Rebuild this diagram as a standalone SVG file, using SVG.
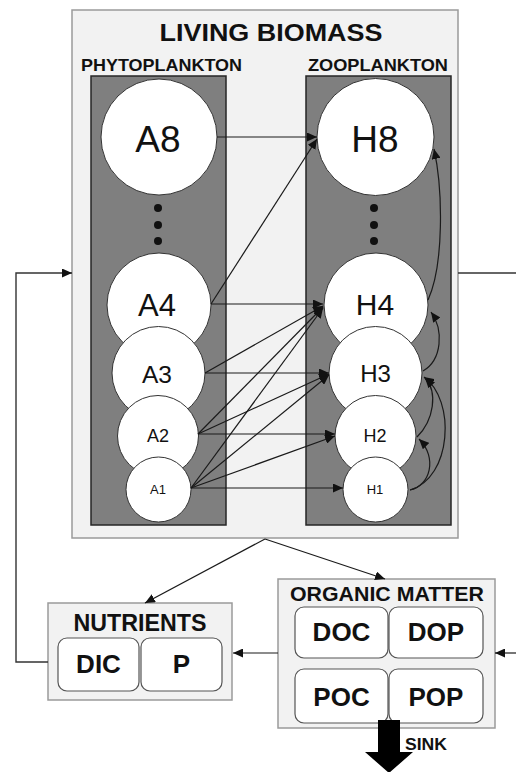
<svg xmlns="http://www.w3.org/2000/svg" width="516" height="772" viewBox="0 0 516 772">
<style>
.panel{fill:#f2f2f2;stroke:#9a9a9a;stroke-width:1.5}
.dark{fill:#7f7f7f;stroke:#262626;stroke-width:1.5}
.circ{fill:#ffffff;stroke:#333333;stroke-width:1}
.cell{fill:#ffffff;stroke:#555555;stroke-width:1.2}
.lbl{font-family:"Liberation Sans",Arial,sans-serif;fill:#111;text-anchor:middle}
.b{font-weight:bold}
.con{fill:none;stroke:#1a1a1a;stroke-width:1.2}
.fb{fill:none;stroke:#333;stroke-width:1.4}
.dot{fill:#111}
</style>
<defs>
<marker id="ah" markerUnits="userSpaceOnUse" markerWidth="11" markerHeight="9" refX="10" refY="4.5" orient="auto" viewBox="0 0 11 9">
<path d="M0,0 L10,4.5 L0,9 Z" fill="#111"/>
</marker>
</defs>

<g id="living-biomass">
<rect class="panel" x="72" y="10" width="386" height="528"/>
<text class="lbl b" x="271" y="41" font-size="23" textLength="223" lengthAdjust="spacingAndGlyphs">LIVING BIOMASS</text>
<text class="lbl b" x="161.5" y="71" font-size="17" textLength="161" lengthAdjust="spacingAndGlyphs">PHYTOPLANKTON</text>
<text class="lbl b" x="378" y="71" font-size="17" textLength="140" lengthAdjust="spacingAndGlyphs">ZOOPLANKTON</text>
</g>

<g id="phytoplankton">
<rect class="dark" x="91" y="76" width="135" height="449"/>
<circle class="dot" cx="158" cy="208" r="4"/>
<circle class="dot" cx="158" cy="225" r="4"/>
<circle class="dot" cx="158" cy="241" r="4"/>
</g>
<g id="zooplankton">
<rect class="dark" x="306" y="76" width="145" height="449"/>
<circle class="dot" cx="374" cy="208" r="4"/>
<circle class="dot" cx="374" cy="225" r="4"/>
<circle class="dot" cx="374" cy="241" r="4"/>
</g>

<g id="A8"><circle class="circ" cx="159" cy="137" r="58"/><text class="lbl" x="158" y="152" font-size="37">A8</text></g>
<g id="A4"><circle class="circ" cx="159" cy="305" r="52"/><text class="lbl" x="157" y="316" font-size="31">A4</text></g>
<g id="A3"><circle class="circ" cx="158.5" cy="373" r="46.5"/><text class="lbl" x="157" y="383" font-size="24.5">A3</text></g>
<g id="A2"><circle class="circ" cx="158" cy="436" r="40.5"/><text class="lbl" x="158" y="442" font-size="18">A2</text></g>
<g id="A1"><circle class="circ" cx="158.5" cy="489.5" r="32.5"/><text class="lbl" x="158" y="494" font-size="13">A1</text></g>

<g id="H8"><circle class="circ" cx="375.5" cy="137" r="58.5"/><text class="lbl" x="375" y="152" font-size="37">H8</text></g>
<g id="H4"><circle class="circ" cx="376" cy="305" r="52"/><text class="lbl" x="375" y="315" font-size="30">H4</text></g>
<g id="H3"><circle class="circ" cx="375.5" cy="373" r="46.5"/><text class="lbl" x="375.5" y="382" font-size="24">H3</text></g>
<g id="H2"><circle class="circ" cx="375.5" cy="436" r="40.5"/><text class="lbl" x="375" y="442" font-size="18">H2</text></g>
<g id="H1"><circle class="circ" cx="375.5" cy="489.5" r="32.5"/><text class="lbl" x="375" y="494" font-size="13">H1</text></g>

<g id="nutrients">
<rect class="panel" x="48" y="603" width="184" height="97"/>
<text class="lbl b" x="140" y="631" font-size="23" textLength="133" lengthAdjust="spacingAndGlyphs">NUTRIENTS</text>
<rect class="cell" x="58" y="638" width="81" height="53" rx="9"/>
<rect class="cell" x="141" y="638" width="81" height="53" rx="9"/>
<text class="lbl b" x="98.5" y="673" font-size="26">DIC</text>
<text class="lbl b" x="181.5" y="673" font-size="26">P</text>
</g>

<g id="organic-matter">
<rect class="panel" x="278" y="579" width="217" height="149"/>
<text class="lbl b" x="387" y="601" font-size="20" textLength="194" lengthAdjust="spacingAndGlyphs">ORGANIC MATTER</text>
<rect class="cell" x="295" y="607" width="93" height="51" rx="9"/>
<rect class="cell" x="389" y="607" width="94" height="51" rx="9"/>
<rect class="cell" x="295" y="669" width="93" height="54" rx="9"/>
<rect class="cell" x="389" y="669" width="94" height="54" rx="9"/>
<text class="lbl b" x="341.5" y="641" font-size="26">DOC</text>
<text class="lbl b" x="436" y="641" font-size="26">DOP</text>
<text class="lbl b" x="341.5" y="706" font-size="26">POC</text>
<text class="lbl b" x="436" y="706" font-size="26">POP</text>
</g>

<g id="sink">
<path d="M378,720 L400,720 L400,752 L413,752 L389,773 L365,752 L378,752 Z" fill="#000"/>
<text class="lbl b" x="426" y="750" font-size="16" textLength="42" lengthAdjust="spacingAndGlyphs">SINK</text>
</g>

<g id="connectors">
<line class="con" x1="217" y1="137" x2="317" y2="137" marker-end="url(#ah)"/>
<line class="con" x1="211" y1="304" x2="317" y2="139" marker-end="url(#ah)"/>
<line class="con" x1="211" y1="304" x2="323" y2="304" marker-end="url(#ah)"/>
<line class="con" x1="205" y1="373" x2="323" y2="306" marker-end="url(#ah)"/>
<line class="con" x1="205" y1="373" x2="329" y2="373" marker-end="url(#ah)"/>
<line class="con" x1="198" y1="434" x2="323" y2="307" marker-end="url(#ah)"/>
<line class="con" x1="198" y1="434" x2="329" y2="374" marker-end="url(#ah)"/>
<line class="con" x1="198" y1="434" x2="335" y2="434" marker-end="url(#ah)"/>
<line class="con" x1="191" y1="488" x2="323" y2="308" marker-end="url(#ah)"/>
<line class="con" x1="191" y1="488" x2="329" y2="375" marker-end="url(#ah)"/>
<line class="con" x1="191" y1="488" x2="335" y2="436" marker-end="url(#ah)"/>
<line class="con" x1="191" y1="488" x2="343" y2="488" marker-end="url(#ah)"/>
<path class="con" d="M410,490 C430,486 438,458 419,439" marker-end="url(#ah)"/>
<path class="con" d="M410,490 C452,478 456,400 424,377" marker-end="url(#ah)"/>
<path class="con" d="M417,437 C434,420 438,392 425,378" marker-end="url(#ah)"/>
<path class="con" d="M423,371 C442,360 444,330 431,312" marker-end="url(#ah)"/>
<path class="con" d="M428,300 C444,265 443,190 434,149" marker-end="url(#ah)"/>
<line class="con" x1="265" y1="539" x2="145" y2="603" marker-end="url(#ah)"/>
<line class="con" x1="265" y1="539" x2="385" y2="579" marker-end="url(#ah)"/>
<line class="fb" x1="458" y1="273" x2="516" y2="273"/>
<line class="con" x1="278" y1="653" x2="233" y2="653" marker-end="url(#ah)"/>
<line class="con" x1="516" y1="653" x2="495" y2="653" marker-end="url(#ah)"/>
<path class="fb" d="M48,662 L16,662 L16,273 L72,273" marker-end="url(#ah)"/>
</g>
</svg>
